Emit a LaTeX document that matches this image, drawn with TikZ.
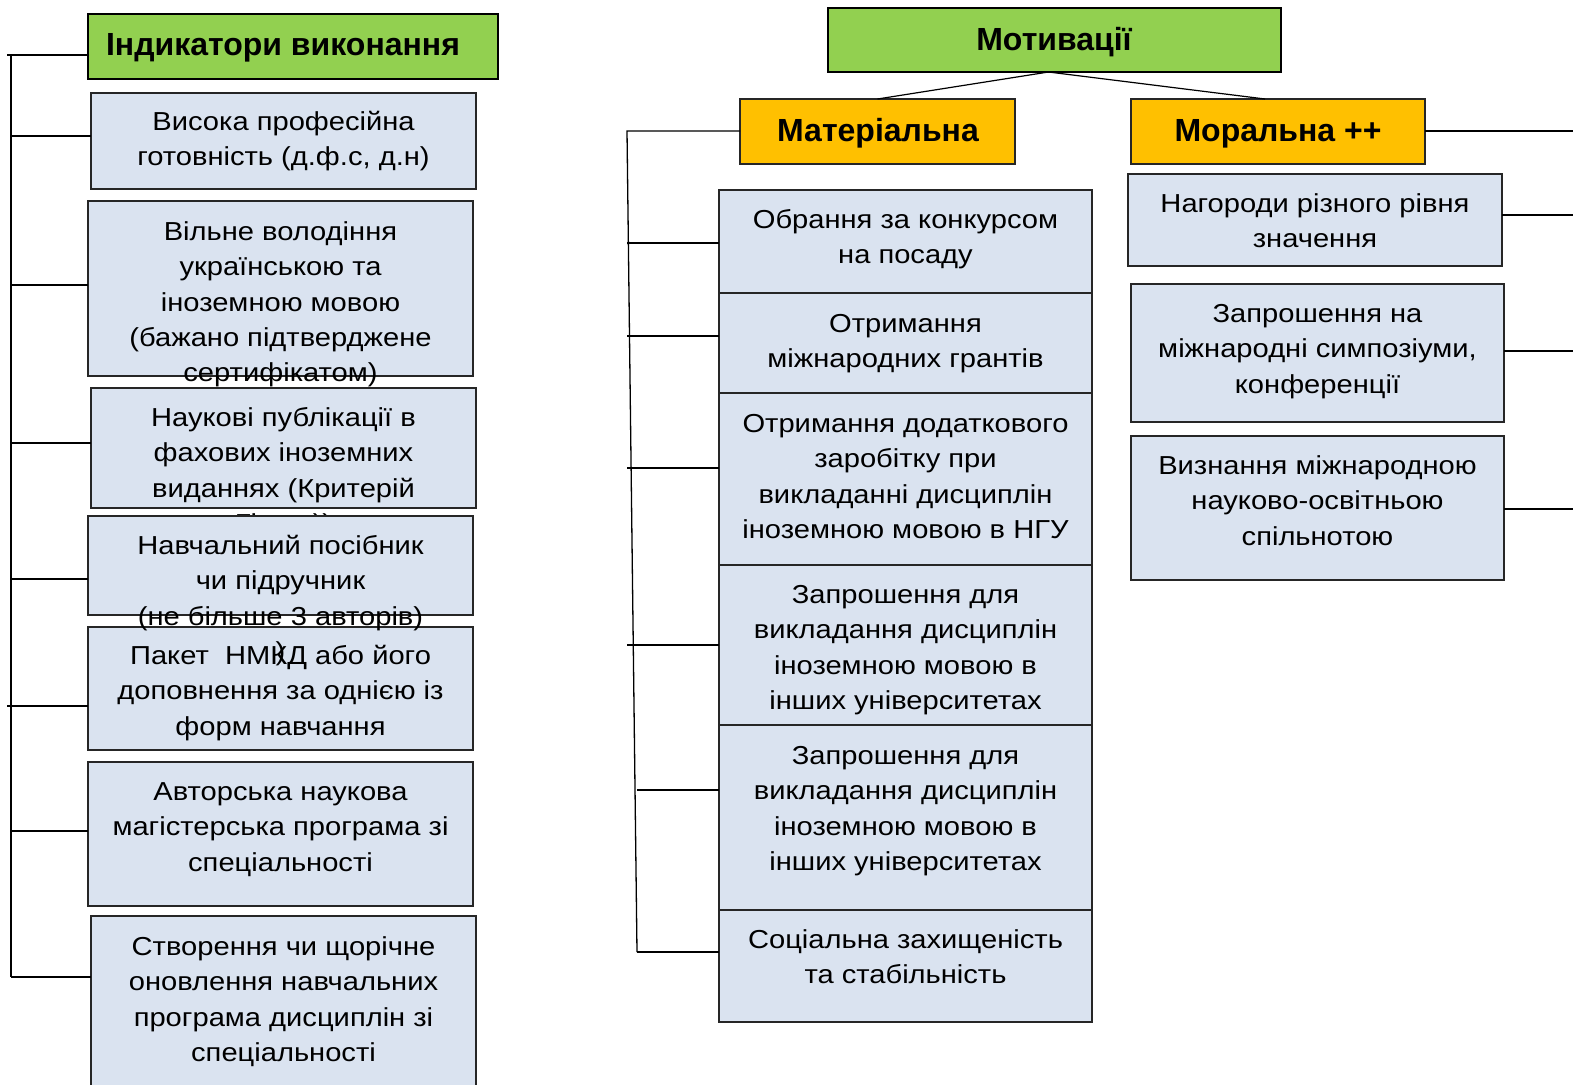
\documentclass[tikz,border=0pt]{standalone}
\usepackage{fontspec}
\setmainfont{Liberation Sans}
\newfontfamily\bodyfont[FakeStretch=1.12]{Liberation Sans}
\definecolor{hgreen}{HTML}{92D050}
\definecolor{horange}{HTML}{FFC000}
\definecolor{boxblue}{HTML}{DAE3F0}
\newcommand{\mybox}[6]{\node[#2, minimum width=#5-#3, minimum height=#6-#4, anchor=north west] (#1) at (#3,#4) {};}
\begin{document}
\begin{tikzpicture}[x=1pt,y=-1pt,
  every node/.style={inner sep=0pt, outer sep=0pt},
  bluebox/.style={draw=black!85, line width=1.6pt, fill=boxblue},
  greenbox/.style={draw=black, line width=1.6pt, fill=hgreen},
  orangebox/.style={draw=black!85, line width=1.6pt, fill=horange},
  body/.style={font=\bodyfont\fontsize{26}{35.2}\selectfont, align=center, anchor=north, yshift=-3pt},
  head/.style={font=\fontsize{32}{36}\selectfont\bfseries, anchor=base},
  conn/.style={line width=1.3pt, black}]
\fill[white] (0,0) rectangle (1573,1084);
\clip (0,0) rectangle (1573,1084);

% ---------- left column ----------
\mybox{hL}{greenbox}{88}{14}{498}{79}
\node[head] (hLt) at (283,55) {Індикатори виконання};

\mybox{b1}{bluebox}{91}{93}{476}{189}
\node[body] (t1) at (b1.north |- 0,103) {\strut Висока професійна\\готовність (д.ф.с, д.н)};
\mybox{b2}{bluebox}{88}{201}{473}{376}
\node[body] (t2) at (b2.north |- 0,213) {\strut Вільне володіння\\українською та\\іноземною мовою\\(бажано підтверджене\\сертифікатом)};
\mybox{b3}{bluebox}{91}{388}{476}{508}
\node[body] (t3) at (b3.north |- 0,399) {\strut Наукові публікації в\\фахових іноземних\\виданнях (Критерій\\Гірша))};
\mybox{b4}{bluebox}{88}{516}{473}{615}
\mybox{b5}{bluebox}{88}{627}{473}{750}
\node[body] (t5) at (b5.north |- 0,637) {\strut Пакет~~НМКД або його\\доповнення за однією із\\форм навчання};
\node[body] (t4) at (b4.north |- 0,527) {\strut Навчальний посібник\\чи підручник\\(не більше 3 авторів)\\)};
\mybox{b6}{bluebox}{88}{762}{473}{906}
\node[body] (t6) at (b6.north |- 0,773) {\strut Авторська наукова\\магістерська програма зі\\спеціальності};
\mybox{b7}{bluebox}{91}{916}{476}{1100}
\node[body] (t7) at (b7.north |- 0,928) {\strut Створення чи щорічне\\оновлення навчальних\\програма дисциплін зі\\спеціальності};

\coordinate (s0) at (11,55);
\coordinate (s0a) at (7,55);
\coordinate (s1) at (11,136);
\coordinate (s2) at (11,285);
\coordinate (s3) at (11,443);
\coordinate (s4) at (11,579);
\coordinate (s5) at (7,706);
\coordinate (s6) at (11,831);
\coordinate (s7) at (11,977);
\draw[conn] (hL.west |- s0) -- (s0a);
\draw[conn] (s0) -- (s7);
\draw[conn] (s1) -- (s1 -| b1.west);
\draw[conn] (s2) -- (s2 -| b2.west);
\draw[conn] (s3) -- (s3 -| b3.west);
\draw[conn] (s4) -- (s4 -| b4.west);
\draw[conn] (s5) -- (s5 -| b5.west);
\draw[conn] (s6) -- (s6 -| b6.west);
\draw[conn] (s7) -- (s7 -| b7.west);

% ---------- middle ----------
\mybox{hM}{greenbox}{828}{8}{1281}{72}
\node[head] (hMt) at (1054,50) {Мотивації};
\mybox{mat}{orangebox}{740}{99}{1015}{164}
\node[head] (matt) at (878,141) {Матеріальна};
\mybox{mor}{orangebox}{1131}{99}{1425}{164}
\node[head] (mort) at (1278,141) {Моральна ++};
\draw[conn, line width=1.2pt] ([xshift=-6pt]hM.south) -- (mat.north);
\draw[conn, line width=1.2pt] ([xshift=-6pt]hM.south) -- ([xshift=-13pt]mor.north);

\mybox{m1}{bluebox}{719}{190}{1092}{293}
\node[body] (u1) at (m1.north |- 0,201) {\strut Обрання за конкурсом\\на посаду};
\mybox{m2}{bluebox}{719}{293}{1092}{393}
\node[body] (u2) at (m2.north |- 0,305) {\strut Отримання\\міжнародних грантів};
\mybox{m3}{bluebox}{719}{393}{1092}{565}
\node[body] (u3) at (m3.north |- 0,405) {\strut Отримання додаткового\\заробітку при\\викладанні дисциплін\\іноземною мовою в НГУ};
\mybox{m4}{bluebox}{719}{565}{1092}{725}
\node[body] (u4) at (m4.north |- 0,576) {\strut Запрошення для\\викладання дисциплін\\іноземною мовою в\\інших університетах};
\mybox{m5}{bluebox}{719}{725}{1092}{910}
\node[body] (u5) at (m5.north |- 0,737) {\strut Запрошення для\\викладання дисциплін\\іноземною мовою в\\інших університетах};
\mybox{m6}{bluebox}{719}{910}{1092}{1022}
\node[body] (u6) at (m6.north |- 0,921) {\strut Соціальна захищеність\\та стабільність};

\coordinate (q0) at (627,131);
\coordinate (qB) at (637,952);
\coordinate (q1) at (627,243);
\coordinate (q2) at (627,336);
\coordinate (q3) at (627,468);
\coordinate (q4) at (627,645);
\coordinate (q5) at (637,790);
\draw[conn] (mat.west |- q0) -- (q0) -- (qB);
\draw[conn] (q1) -- (q1 -| m1.west);
\draw[conn] (q2) -- (q2 -| m2.west);
\draw[conn] (q3) -- (q3 -| m3.west);
\draw[conn] (q4) -- (q4 -| m4.west);
\draw[conn] (q5) -- (q5 -| m5.west);
\draw[conn] (qB) -- (qB -| m6.west);

% ---------- right ----------
\mybox{r1}{bluebox}{1128}{174}{1502}{266}
\node[body] (v1) at (r1.north |- 0,185) {\strut Нагороди різного рівня\\значення};
\mybox{r2}{bluebox}{1131}{284}{1504}{422}
\node[body] (v2) at (r2.north |- 0,295) {\strut Запрошення на\\міжнародні симпозіуми,\\конференції};
\mybox{r3}{bluebox}{1131}{436}{1504}{580}
\node[body] (v3) at (r3.north |- 0,447) {\strut Визнання міжнародною\\науково-освітньою\\спільнотою};

\coordinate (e0) at (1573,131);
\coordinate (e1) at (1573,215);
\coordinate (e2) at (1573,351);
\coordinate (e3) at (1573,509);
\draw[conn] (mor.east |- e0) -- (e0);
\draw[conn] (r1.east |- e1) -- (e1);
\draw[conn] (r2.east |- e2) -- (e2);
\draw[conn] (r3.east |- e3) -- (e3);
\end{tikzpicture}
\end{document}
